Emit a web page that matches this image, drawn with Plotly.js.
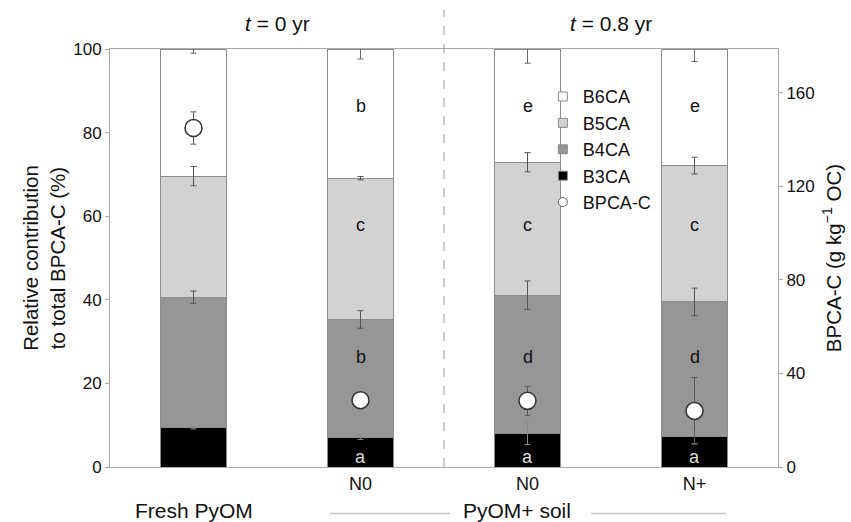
<!DOCTYPE html>
<html>
<head>
<meta charset="utf-8">
<script src="https://cdn.plot.ly/plotly-3.0.1.min.js"></script>
<style>html,body{margin:0;padding:0;background:#fff;}#chart{width:851px;height:522px;}</style>
</head>
<body>
<div id="chart"></div>
<script>
// ---- data ----
var positions = [0, 1, 2, 3];
var tickLabels = ["", "N0", "N0", "N+"];
var groupLabels = ["Fresh PyOM", "PyOM+ soil"];
var periodLabels = ["<i>t</i> = 0 yr", "<i>t</i> = 0.8 yr"];

var b3ca = [9.4, 7.0, 8.1, 7.4];
var b4ca = [31.2, 28.3, 33.0, 32.1];
var b5ca = [29.0, 33.8, 31.8, 32.6];
var b6ca = [30.4, 30.9, 27.1, 27.9];

var b3err = [0.3, 0.4, 2.7, 1.8];
var b4err = [1.5, 2.1, 3.4, 3.3];
var b5err = [2.3, 0.4, 2.3, 2.0];
var b6err = [1.0, 2.4, 3.4, 3.0];

var bpcaC = [145, 28.6, 28.3, 24.0];
var bpcaErr = [6.9, 1.0, 6.2, 14.3];

var b6Letters = ["", "b", "e", "e"];
var b5Letters = ["", "c", "c", "c"];
var b4Letters = ["", "b", "d", "d"];
var b3Letters = ["", "a", "a", "a"];

var seriesNames = ["B3CA", "B4CA", "B5CA", "B6CA"];
var seriesColors = ["#000000", "#969696", "#d2d2d2", "#ffffff"];

// ---- traces ----
var segs = [b3ca, b4ca, b5ca, b6ca];
var errs = [b3err, b4err, b5err, b6err];
var errColors = ["#8a8a8a", "#555555", "#555555", "#666666"];
var traces = [];
for (var i = 0; i < 4; i++) {
  traces.push({
    type: "bar", x: positions, y: segs[i], name: seriesNames[i],
    width: 0.4, showlegend: false,
    marker: {color: seriesColors[i], line: {color: "#8c8c8c", width: 1}},
    hoverinfo: "skip"
  });
}
// error bars at cumulative tops
var cum = [0, 0, 0, 0];
for (var i = 0; i < 4; i++) {
  var tops = [];
  for (var j = 0; j < 4; j++) { cum[j] += segs[i][j]; tops.push(cum[j]); }
  traces.push({
    type: "scatter", mode: "markers", x: positions, y: tops, showlegend: false,
    marker: {opacity: 0, size: 1},
    error_y: {type: "data", array: errs[i], color: errColors[i], thickness: 1, width: 3},
    hoverinfo: "skip"
  });
}
traces.push({
  type: "scatter", mode: "markers", x: positions, y: bpcaC, yaxis: "y2", name: "BPCA-C",
  showlegend: false,
  marker: {symbol: "circle", size: 17, color: "#ffffff", line: {color: "#333333", width: 1.5}},
  error_y: {type: "data", array: bpcaErr, color: "#5a5a5a", thickness: 1, width: 3}
});
// legend entries
var legNames = ["B6CA", "B5CA", "B4CA", "B3CA"];
var legColors = ["#ffffff", "#d2d2d2", "#969696", "#000000"];
for (var i = 0; i < 4; i++) {
  traces.push({type: "scatter", mode: "markers", x: [null], y: [null], name: legNames[i],
    marker: {symbol: "square", size: 9, color: legColors[i], line: {color: "#8c8c8c", width: 1}}});
}
traces.push({type: "scatter", mode: "markers", x: [null], y: [null], name: "BPCA-C",
  marker: {symbol: "circle", size: 9, color: "#ffffff", line: {color: "#666666", width: 1}}});

// ---- annotations ----
var ann = [];
var letterSets = [[b6Letters, 86.3, "#111"], [b5Letters, 58.0, "#111"], [b4Letters, 26.2, "#111"], [b3Letters, 2.3, "#dddddd"]];
letterSets.forEach(function (s) {
  for (var j = 0; j < 4; j++) {
    if (s[0][j]) ann.push({x: positions[j], y: s[1], xref: "x", yref: "y", text: s[0][j], showarrow: false,
      font: {size: 18, color: s[2]}});
  }
});
ann.push({x: 0.5, y: 1.0, xref: "x", yref: "paper", yanchor: "middle", yshift: 26, text: periodLabels[0], showarrow: false, font: {size: 21, color: "#111"}});
ann.push({x: 2.5, y: 1.0, xref: "x", yref: "paper", yanchor: "middle", yshift: 26, text: periodLabels[1], showarrow: false, font: {size: 21, color: "#111"}});
ann.push({x: 0, y: 0, xref: "x", yref: "paper", yanchor: "middle", yshift: -43, text: groupLabels[0], showarrow: false, font: {size: 21, color: "#111"}});
ann.push({x: 1.94, y: 0, xref: "x", yref: "paper", yanchor: "middle", yshift: -43, text: groupLabels[1], showarrow: false, font: {size: 21, color: "#111"}});

var layout = {
  width: 851, height: 522,
  margin: {l: 110, r: 73, t: 49, b: 55},
  paper_bgcolor: "#ffffff", plot_bgcolor: "#ffffff",
  font: {family: "Liberation Sans, Arial, sans-serif", size: 17, color: "#111"},
  barmode: "stack",
  showlegend: true,
  legend: {x: 0.648, y: 0.93, xanchor: "left", yanchor: "top", bgcolor: "rgba(0,0,0,0)",
    font: {size: 18, color: "#111"}, traceorder: "normal", itemwidth: 30, tracegroupgap: 0},
  xaxis: {range: [-0.5, 3.5], tickvals: positions, ticktext: tickLabels, showgrid: false, zeroline: false,
    showline: true, linecolor: "#aaaaaa", linewidth: 1, mirror: true, ticks: "", fixedrange: true,
    tickfont: {size: 18}},
  yaxis: {range: [0, 100], tickvals: [0, 20, 40, 60, 80, 100], showgrid: false, zeroline: false,
    showline: true, linecolor: "#aaaaaa", linewidth: 1, ticks: "outside", ticklen: 4, tickcolor: "#aaaaaa",
    title: {text: "Relative contribution<br>to total BPCA-C (%)", font: {size: 20.5}, standoff: 2}},
  yaxis2: {range: [0, 178.8], overlaying: "y", side: "right", tickvals: [0, 40, 80, 120, 160], showgrid: false,
    zeroline: false, showline: true, linecolor: "#aaaaaa", linewidth: 1, ticks: "outside", ticklen: 4, tickcolor: "#aaaaaa",
    title: {text: "BPCA-C (g kg<sup>−1</sup> OC)", font: {size: 20.5}, standoff: 12}},
  shapes: [
    {type: "line", xref: "x", yref: "paper", x0: 1.5, x1: 1.5, y0: 0, y1: 1.094, line: {color: "#999999", width: 1, dash: "dash"}},
    {type: "line", xref: "paper", yref: "paper", x0: (330-110)/668, x1: (450-110)/668, y0: -0.111, y1: -0.111, line: {color: "#c8c8c8", width: 1.5}},
    {type: "line", xref: "paper", yref: "paper", x0: (591-110)/668, x1: (726-110)/668, y0: -0.111, y1: -0.111, line: {color: "#c8c8c8", width: 1.5}}
  ],
  annotations: ann
};
Plotly.newPlot("chart", traces, layout, {displayModeBar: false, staticPlot: true});
</script>
</body>
</html>
